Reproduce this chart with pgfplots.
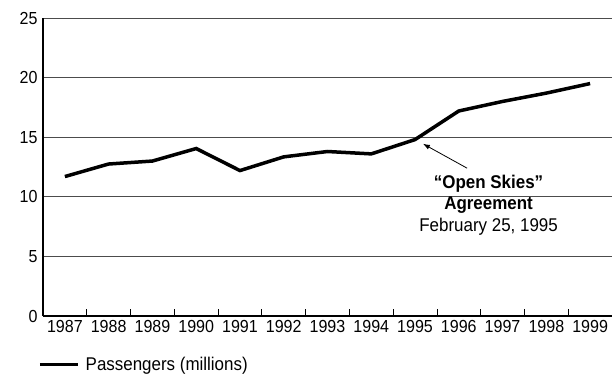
\documentclass[border=0pt]{standalone}
\usepackage{fontspec}
\setmainfont{Liberation Sans}[FakeStretch=0.92]
\usepackage{pgfplots}
\pgfplotsset{compat=1.18}
\usetikzlibrary{arrows.meta,calc}

\begin{document}
\begin{tikzpicture}
\begin{axis}[
    name=ax,
    scale only axis,
    width=569bp, height=298bp,
    xmin=-0.5, xmax=12.5,
    ymin=0, ymax=25,
    axis x line=bottom, axis y line=left,
    axis line style={-, line width=1.2bp},
    xtick={0,...,12},
    xticklabels={1987,1988,1989,1990,1991,1992,1993,1994,1995,1996,1997,1998,1999},
    major x tick style={draw=none},
    minor xtick={0.5,1.5,...,11.5},
    minor tick length=7bp,
    minor x tick style={line width=0.8bp, black},
    ytick={0,5,...,25},
    major y tick style={draw=none},
    tick align=inside,
    ymajorgrids,
    grid style={line width=0.8bp, black!70},
    tick label style={font=\fontsize{17.5}{19}\selectfont},
    /pgf/number format/assume math mode=true,
    xticklabel style={yshift=-1bp},
    yticklabel style={xshift=-2bp},
    legend style={at={(rel axis cs:0,0)}, anchor=north west, xshift=-5bp, yshift=-39bp,
        draw=none, fill=none, font=\fontsize{18.5}{20}\selectfont, inner sep=0pt},
    legend cell align=left,
    legend image code/.code={\draw[line width=3.5bp] (0bp,0bp) -- (38bp,0bp); \path (42bp,0bp);},
]
\addplot[black, line width=3.5bp, line join=miter] coordinates {
    (0,11.7) (1,12.75) (2,13.0) (3,14.05) (4,12.2) (5,13.35) (6,13.8)
    (7,13.6) (8,14.8) (9,17.2) (10,18.0) (11,18.7) (12,19.5)
};
\addlegendentry{Passengers (millions)}
\draw[line width=0.8bp, -{Latex[length=7bp, width=5bp]}] (axis cs:9.19,12.4) -- (axis cs:8.18,14.45);
\node[font=\fontsize{18.5}{21.5}\selectfont, align=center] at (axis cs:9.68,9.31)
    {\bfseries “Open Skies”\\\bfseries Agreement\\February 25, 1995};
\end{axis}
\pgfresetboundingbox
\path[use as bounding box] ($(ax.south west)+(-43bp,-59bp)$) rectangle ($(ax.north east)+(0bp,18bp)$);
\end{tikzpicture}
\end{document}
